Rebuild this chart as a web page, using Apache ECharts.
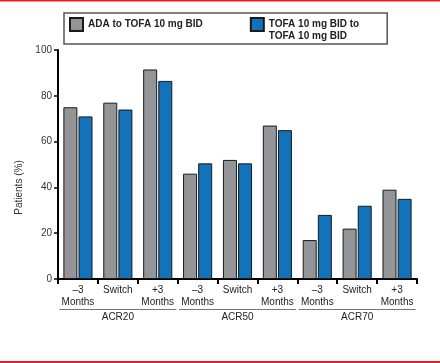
<!DOCTYPE html>
<html><head><meta charset="utf-8">
<script src="https://cdn.jsdelivr.net/npm/echarts@6/dist/echarts.min.js"></script>
<style>html,body{margin:0;padding:0;background:#fff}#c{width:440px;height:363px}</style>
</head><body><div id="c"></div>
<script>
var categories = ['\u20133\nMonths', 'Switch', '+3\nMonths', '\u20133\nMonths', 'Switch', '+3\nMonths', '\u20133\nMonths', 'Switch', '+3\nMonths'];
var groups = ['ACR20', 'ACR50', 'ACR70'];
var seriesNames = ['ADA to TOFA 10 mg BID', 'TOFA 10 mg BID to\nTOFA 10 mg BID'];
var adaValues = [75, 77, 91.5, 46, 52, 67, 17, 22, 39];
var tofaValues = [71, 74, 86.5, 50.5, 50.5, 65, 28, 32, 35];
var yTicks = [0, 20, 40, 60, 80, 100];

var chart = echarts.init(document.getElementById('c'), null, {renderer: 'canvas'});
var font = 'Liberation Sans, Arial, sans-serif';
chart.setOption({
  animation: false,
  textStyle: {fontFamily: font},
  graphic: [
    {type: 'rect', shape: {x: 0, y: 0, width: 440, height: 1.5}, style: {fill: '#ec1c24'}},
    {type: 'rect', shape: {x: 0, y: 361, width: 440, height: 2}, style: {fill: '#d0232b'}}
  ],
  legend: {
    left: 64, top: 13,
    orient: 'horizontal',
    padding: [-6.5, 28, 1.5, 5],
    borderColor: '#555', borderWidth: 1.5,
    itemWidth: 13, itemHeight: 13, itemGap: 47, itemTextGap: 3,
    textStyle: {fontSize: 10, fontWeight: 'bold', color: '#222', fontFamily: font, lineHeight: 12},
    formatter: function (name) { return name.indexOf('\n') >= 0 ? '\n' + name : name; },
    data: seriesNames.map(function (n) { return {name: n, icon: 'rect'}; })
  },
  grid: {left: 58, right: 23, top: 50, bottom: 84},
  xAxis: [{
    type: 'category', data: categories, boundaryGap: true,
    axisLine: {lineStyle: {color: '#000', width: 2}},
    axisTick: {show: true, interval: 0, length: 5, lineStyle: {color: '#000', width: 2}},
    axisLabel: {interval: 0, margin: 5, fontSize: 10, color: '#222', lineHeight: 12, fontFamily: font}
  }, {
    type: 'category', data: groups, boundaryGap: true, position: 'bottom', offset: 30,
    axisLine: {show: false}, axisTick: {show: false},
    axisLabel: {
      interval: 0, margin: 0,
      formatter: function (v) { return '{l|}\n{n|' + v + '}'; },
      rich: {
        l: {width: 117, height: 1, lineHeight: 1, backgroundColor: '#777'},
        n: {fontSize: 10, color: '#222', lineHeight: 14, fontFamily: font}
      }
    }
  }],
  yAxis: {
    type: 'value', min: yTicks[0], max: yTicks[yTicks.length - 1], interval: 20,
    name: 'Patients (%)', nameLocation: 'middle', nameGap: 29,
    nameTextStyle: {fontSize: 10, color: '#333', fontFamily: font, padding: [0, 46, 0, 0]},
    axisLine: {show: true, lineStyle: {color: '#000', width: 2}},
    axisTick: {show: true, length: 4, lineStyle: {color: '#000', width: 1.5}},
    axisLabel: {fontSize: 10, color: '#333', margin: 6, fontFamily: font},
    splitLine: {show: false}
  },
  series: [{
    name: seriesNames[0], type: 'bar', data: adaValues, barWidth: 14, barGap: '8%',
    itemStyle: {color: '#939598', borderColor: '#1a1a1a', borderWidth: 1}
  }, {
    name: seriesNames[1], type: 'bar', data: tofaValues, barWidth: 14, barGap: '8%',
    itemStyle: {color: '#1272ba', borderColor: '#1a1a1a', borderWidth: 1}
  }]
});
</script></body></html>
